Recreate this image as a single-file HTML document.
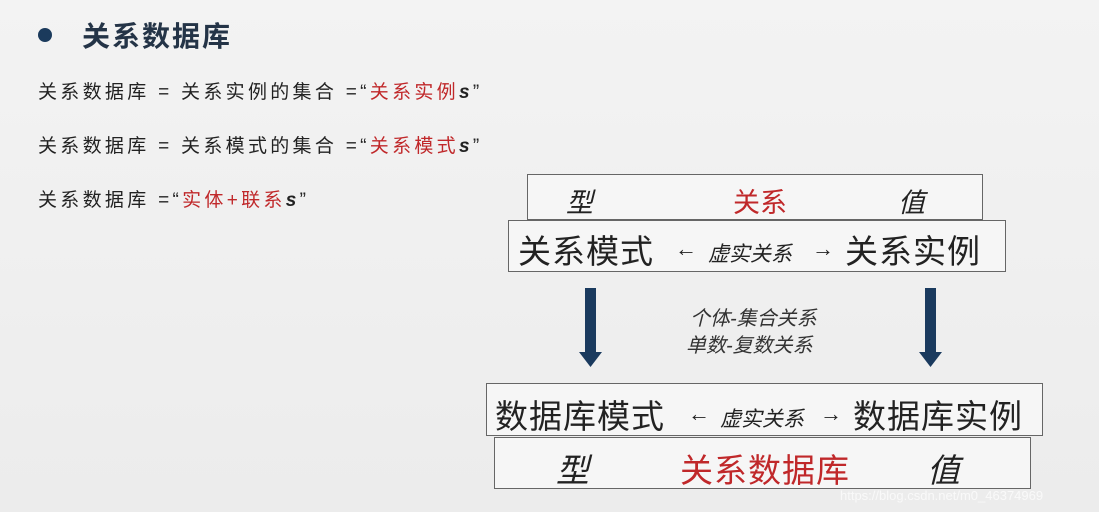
<!DOCTYPE html>
<html><head><meta charset="utf-8"><style>
body{margin:0;width:1099px;height:512px;background:linear-gradient(#f3f3f3,#ececec);position:relative;overflow:hidden;font-family:"Liberation Sans","Noto Sans CJK SC",sans-serif;color:#222}
.a{position:absolute;white-space:nowrap}
.r{color:#c0282a}
.box{position:absolute;border:1.5px solid #666;background:#f6f6f6;box-sizing:border-box}
.it{font-style:italic}
.ln{font-size:19px;letter-spacing:3.3px}
</style></head><body>
<div class="a" style="left:38px;top:28px;width:14px;height:14px;border-radius:50%;background:#1b3a5c"></div>
<div class="a" style="left:82px;top:15px;font-size:28px;letter-spacing:2px;color:#243447;font-weight:bold">关系数据库</div>
<div class="a ln" style="left:38px;top:77px">关系数据库 = 关系实例的集合 =“<span class="r">关系实例</span><b class="it">s</b>”</div>
<div class="a ln" style="left:38px;top:131px">关系数据库 = 关系模式的集合 =“<span class="r">关系模式</span><b class="it">s</b>”</div>
<div class="a ln" style="left:38px;top:185px">关系数据库 =“<span class="r">实体+联系</span><b class="it">s</b>”</div>

<div class="box" style="left:527px;top:174px;width:456px;height:46px"></div>
<div class="a it" style="left:566px;top:181px;font-size:27px">型</div>
<div class="a r" style="left:733px;top:181px;font-size:27px">关系</div>
<div class="a it" style="left:898px;top:181px;font-size:27px">值</div>
<div class="box" style="left:508px;top:220px;width:498px;height:52px"></div>
<div class="a" style="left:518px;top:225px;font-size:33px;letter-spacing:1px">关系模式</div>
<div class="a" style="left:675px;top:236px;font-size:22px">←</div>
<div class="a it" style="left:708px;top:238px;font-size:21px">虚实关系</div>
<div class="a" style="left:812px;top:236px;font-size:22px">→</div>
<div class="a" style="left:845px;top:225px;font-size:33px;letter-spacing:1px">关系实例</div>

<svg class="a" style="left:0;top:0" width="1099" height="512">
<rect x="585" y="288" width="11" height="66" fill="#1a3a5e"/><polygon points="579,352 602,352 590.5,367" fill="#1a3a5e"/>
<rect x="925" y="288" width="11" height="66" fill="#1a3a5e"/><polygon points="919,352 942,352 930.5,367" fill="#1a3a5e"/>
</svg>
<div class="a it" style="left:690px;top:302px;font-size:20px;color:#333">个体-集合关系</div>
<div class="a it" style="left:686px;top:329px;font-size:20px;color:#333">单数-复数关系</div>

<div class="box" style="left:486px;top:383px;width:557px;height:53px"></div>
<div class="a" style="left:495px;top:390px;font-size:33px;letter-spacing:1px">数据库模式</div>
<div class="a" style="left:688px;top:401px;font-size:22px">←</div>
<div class="a it" style="left:720px;top:403px;font-size:21px">虚实关系</div>
<div class="a" style="left:820px;top:401px;font-size:22px">→</div>
<div class="a" style="left:853px;top:390px;font-size:33px;letter-spacing:1px">数据库实例</div>
<div class="box" style="left:494px;top:437px;width:537px;height:52px"></div>
<div class="a it" style="left:556px;top:444px;font-size:33px">型</div>
<div class="a r" style="left:680px;top:444px;font-size:33px;letter-spacing:1px">关系数据库</div>
<div class="a it" style="left:927px;top:444px;font-size:33px">值</div>
<div class="a" style="left:840px;top:488px;font-size:13px;color:#fff;opacity:.7">https://blog.csdn.net/m0_46374969</div>
</body></html>
